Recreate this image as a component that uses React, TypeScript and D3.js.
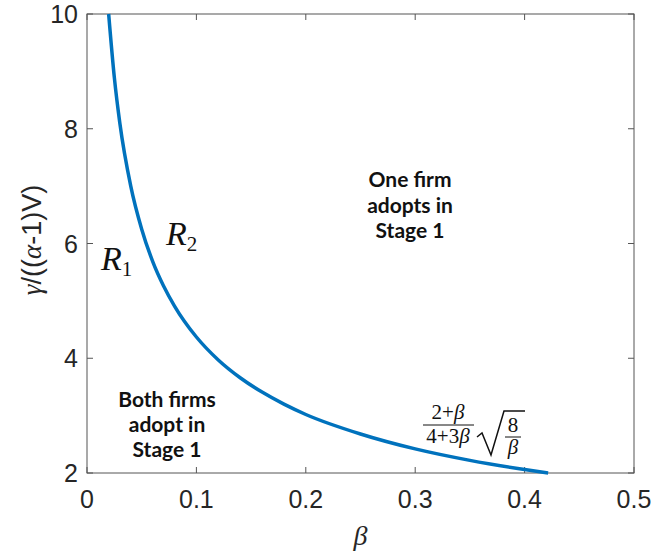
import React from "react";
import * as d3 from "d3";

// points (beta, gamma/((alpha-1)V))
const betaVals = [0.0198, 0.025, 0.03, 0.04, 0.05, 0.06, 0.07, 0.08, 0.1, 0.12, 0.14, 0.16, 0.18, 0.2, 0.25, 0.3, 0.35, 0.4, 0.4215];
const ratioVals = [10.0, 8.89, 8.1, 7.0, 6.25, 5.69, 5.26, 4.91, 4.37, 3.97, 3.66, 3.41, 3.2, 3.02, 2.68, 2.42, 2.22, 2.06, 2.0];

const xTicks = [0, 0.1, 0.2, 0.3, 0.4, 0.5];
const yTicks = [2, 4, 6, 8, 10];

const W = 664, H = 555;
const left = 87, right = 634, top = 14, bottom = 473;

export default function App() {
  const x = d3.scaleLinear().domain([0, 0.5]).range([left, right]);
  const y = d3.scaleLinear().domain([2, 10]).range([bottom, top]);

  const pts: [number, number][] = betaVals.map((b, i) => [b, ratioVals[i]]);
  const line = d3.line<[number, number]>()
    .x(d => x(d[0]))
    .y(d => y(d[1]))
    .curve(d3.curveMonotoneX);

  const axisCol = "#555";
  const txt = "#262626";
  const tick = 6;

  return (
    <svg width={W} height={H} style={{ position: "absolute", left: 0, top: 0, background: "#fff" }}
      fontFamily="'Liberation Sans', Arial, sans-serif">
      {/* box */}
      <rect x={left} y={top} width={right - left} height={bottom - top} fill="none" stroke={axisCol} strokeWidth={1} />
      {xTicks.map(t => (
        <g key={"x" + t}>
          <line x1={x(t)} x2={x(t)} y1={bottom} y2={bottom - tick} stroke={axisCol} />
          <line x1={x(t)} x2={x(t)} y1={top} y2={top + tick} stroke={axisCol} />
          <text x={x(t)} y={bottom + 35} textAnchor="middle" fontSize={25} fill={txt}>{t === 0 ? "0" : String(t)}</text>
        </g>
      ))}
      {yTicks.map(t => (
        <g key={"y" + t}>
          <line x1={left} x2={left + tick} y1={y(t)} y2={y(t)} stroke={axisCol} />
          <line x1={right} x2={right - tick} y1={y(t)} y2={y(t)} stroke={axisCol} />
          <text x={left - 9} y={y(t) + 9} textAnchor="end" fontSize={25} fill={txt}>{t}</text>
        </g>
      ))}

      {/* axis labels */}
      <text x={(left + right) / 2} y={545} textAnchor="middle" fontSize={28} fontStyle="italic"
        fontFamily="'Liberation Serif', serif" fill={txt}>β</text>
      <text transform={`translate(41,240) rotate(-90)`} textAnchor="middle" fontSize={27} fill={txt}>
        <tspan fontStyle="italic" fontFamily="'Liberation Serif', serif">γ</tspan>/((<tspan fontStyle="italic" fontFamily="'Liberation Serif', serif">α</tspan>-1)V)
      </text>

      {/* curve */}
      <path d={line(pts) || ""} fill="none" stroke="#0072BD" strokeWidth={3.5} />

      {/* region labels */}
      <g fontFamily="Lato, 'Open Sans', sans-serif" fontWeight="bold" fontSize={21} fill="#111" textAnchor="middle">
        <text x={410} y={187}>One firm</text>
        <text x={410} y={213}>adopts in</text>
        <text x={410} y={238}>Stage 1</text>
        <text x={167} y={407}>Both firms</text>
        <text x={167} y={432}>adopt in</text>
        <text x={167} y={457}>Stage 1</text>
      </g>

      <g fontFamily="'Liberation Serif', serif" fontStyle="italic" fill="#111">
        <text x={101} y={270} fontSize={34}>R<tspan fontSize={21} dy={6} fontStyle="normal">1</tspan></text>
        <text x={166} y={245} fontSize={34}>R<tspan fontSize={21} dy={6} fontStyle="normal">2</tspan></text>
      </g>

      {/* formula */}
      <g fontFamily="'Liberation Serif', serif" fill="#111" fontSize={21}>
        <text x={448} y={419} textAnchor="middle">2+<tspan fontStyle="italic">β</tspan></text>
        <line x1={423} x2={474} y1={425} y2={425} stroke="#111" strokeWidth={1} />
        <text x={448} y={443} textAnchor="middle">4+3<tspan fontStyle="italic">β</tspan></text>
        <path d="M477,437 L482,433 L491,455 L504,411 L525,411" fill="none" stroke="#111" strokeWidth={1.5} />
        <text x={513} y={432} textAnchor="middle">8</text>
        <line x1={505} x2={521} y1={437} y2={437} stroke="#111" strokeWidth={1} />
        <text x={513} y={454} textAnchor="middle" fontStyle="italic">β</text>
      </g>
    </svg>
  );
}
